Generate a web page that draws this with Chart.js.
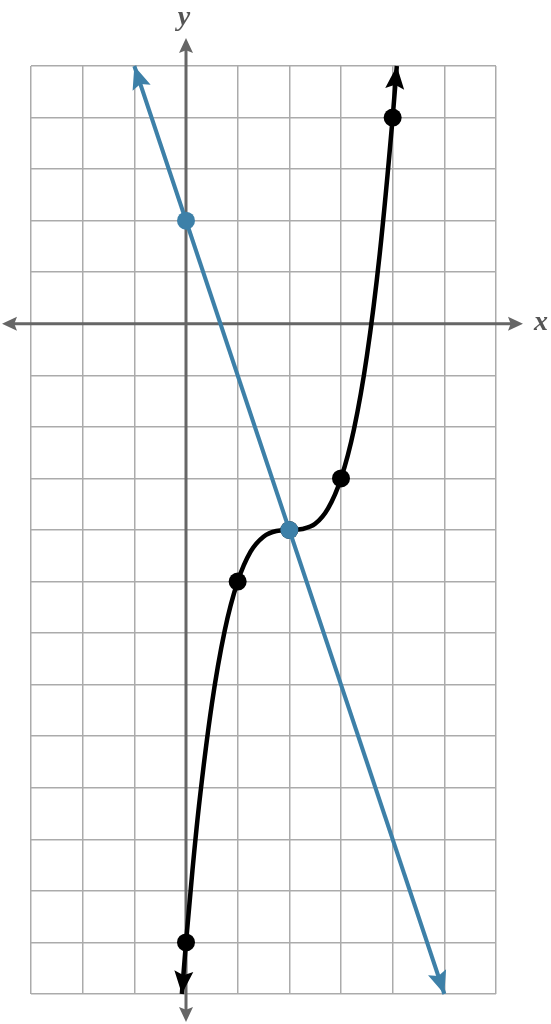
<!DOCTYPE html>
<html>
<head>
<meta charset="utf-8">
<script src="https://cdn.jsdelivr.net/npm/chart.js@4/dist/chart.umd.min.js"></script>
<style>
  body { margin: 0; background: #fff; }
  canvas { display: block; }
</style>
</head>
<body>
<canvas id="graph" width="551" height="1024"></canvas>
<script>
// grid range
const xRange = [-3, 6];
const yRange = [-13, 5];

// black cubic curve
const curveX = [-0.08, 0, 0.125, 0.25, 0.5, 0.75, 1, 1.25, 1.5, 1.75, 2, 2.25, 2.5, 2.75, 3, 3.25, 3.5, 3.75, 4, 4.08];
const curveY = [-13, -12, -10.6, -9.36, -7.38, -5.95, -5, -4.42, -4.13, -4.02, -4, -3.98, -3.88, -3.58, -3, -2.05, -0.63, 1.36, 4, 5];
// black dots
const dotX = [0, 1, 2, 3, 4];
const dotY = [-12, -5, -4, -3, 4];

// blue straight line
const lineX = [-1, 5];
const lineY = [5, -13];
const blueDotX = [0, 2];
const blueDotY = [2, -4];

const BLUE = '#3d80a8';
const AXIS = '#666666';

function pts(xs, ys) {
  return xs.map((x, i) => ({ x: x, y: ys[i] }));
}

function arrowHead(ctx, tipX, tipY, fromX, fromY, len, half, color) {
  const ang = Math.atan2(tipY - fromY, tipX - fromX);
  ctx.save();
  ctx.translate(tipX, tipY);
  ctx.rotate(ang);
  ctx.fillStyle = color;
  ctx.beginPath();
  ctx.moveTo(0, 0);
  ctx.lineTo(-len, -half);
  ctx.lineTo(-len * 0.82, 0);
  ctx.lineTo(-len, half);
  ctx.closePath();
  ctx.fill();
  ctx.restore();
}

// axes with arrows and x / y labels
const axesPlugin = {
  id: 'axes',
  beforeDatasetsDraw(chart) {
    const ctx = chart.ctx;
    const xs = chart.scales.x, ys = chart.scales.y;
    const x0 = xs.getPixelForValue(0);
    const y0 = ys.getPixelForValue(0);
    ctx.save();
    ctx.strokeStyle = AXIS;
    ctx.lineWidth = 3;
    ctx.beginPath();
    ctx.moveTo(8, y0);
    ctx.lineTo(516, y0);
    ctx.moveTo(x0, 46);
    ctx.lineTo(x0, 1015);
    ctx.stroke();
    arrowHead(ctx, 523, y0, 0, y0, 15, 7, AXIS);
    arrowHead(ctx, 2, y0, 551, y0, 15, 7, AXIS);
    arrowHead(ctx, x0, 38, x0, 1024, 15, 7, AXIS);
    arrowHead(ctx, x0, 1022, x0, 0, 15, 7, AXIS);

    ctx.fillStyle = '#555555';
    ctx.font = 'italic bold 28px "Liberation Serif", "DejaVu Serif", serif';
    ctx.textAlign = 'center';
    ctx.textBaseline = 'middle';
    ctx.fillText('x', 541, y0 - 1);
    ctx.fillText('y', x0 - 2, 18);
    ctx.restore();
  },
  afterDatasetsDraw(chart) {
    const ctx = chart.ctx;
    const xs = chart.scales.x, ys = chart.scales.y;
    const px = (x) => xs.getPixelForValue(x);
    const py = (y) => ys.getPixelForValue(y);
    const n = curveX.length;
    // black curve arrows
    arrowHead(ctx, px(curveX[n - 1]), py(curveY[n - 1]), px(curveX[n - 3]), py(curveY[n - 3]), 23, 9.5, '#000');
    arrowHead(ctx, px(curveX[0]), py(curveY[0]), px(curveX[2]), py(curveY[2]), 23, 9.5, '#000');
    // blue line arrows
    arrowHead(ctx, px(lineX[0]), py(lineY[0]), px(lineX[1]), py(lineY[1]), 23, 9.5, BLUE);
    arrowHead(ctx, px(lineX[1]), py(lineY[1]), px(lineX[0]), py(lineY[0]), 23, 9.5, BLUE);
  }
};

new Chart(document.getElementById('graph'), {
  type: 'scatter',
  data: {
    datasets: [
      {
        data: pts(blueDotX, blueDotY),
        showLine: false,
        pointRadius: 9,
        pointBackgroundColor: BLUE,
        pointBorderWidth: 0,
        order: 0
      },
      {
        data: pts(lineX, lineY),
        showLine: true,
        borderColor: BLUE,
        borderWidth: 4,
        pointRadius: 0,
        clip: false,
        order: 1
      },
      {
        data: pts(dotX, dotY),
        showLine: false,
        pointRadius: 9,
        pointBackgroundColor: '#000',
        pointBorderWidth: 0,
        order: 2
      },
      {
        data: pts(curveX, curveY),
        showLine: true,
        borderColor: '#000',
        borderWidth: 4.5,
        pointRadius: 0,
        cubicInterpolationMode: 'monotone',
        clip: false,
        order: 3
      }
    ]
  },
  options: {
    responsive: false,
    animation: false,
    layout: { padding: { left: 31, right: 55, top: 66, bottom: 30 } },
    plugins: { legend: { display: false }, tooltip: { enabled: false } },
    scales: {
      x: {
        type: 'linear',
        min: xRange[0],
        max: xRange[1],
        ticks: { display: false, stepSize: 1 },
        grid: { color: '#ababab', lineWidth: 1.5, drawTicks: false },
        border: { display: false }
      },
      y: {
        type: 'linear',
        min: yRange[0],
        max: yRange[1],
        ticks: { display: false, stepSize: 1 },
        grid: { color: '#ababab', lineWidth: 1.5, drawTicks: false },
        border: { display: false }
      }
    }
  },
  plugins: [axesPlugin]
});
</script>
</body>
</html>
